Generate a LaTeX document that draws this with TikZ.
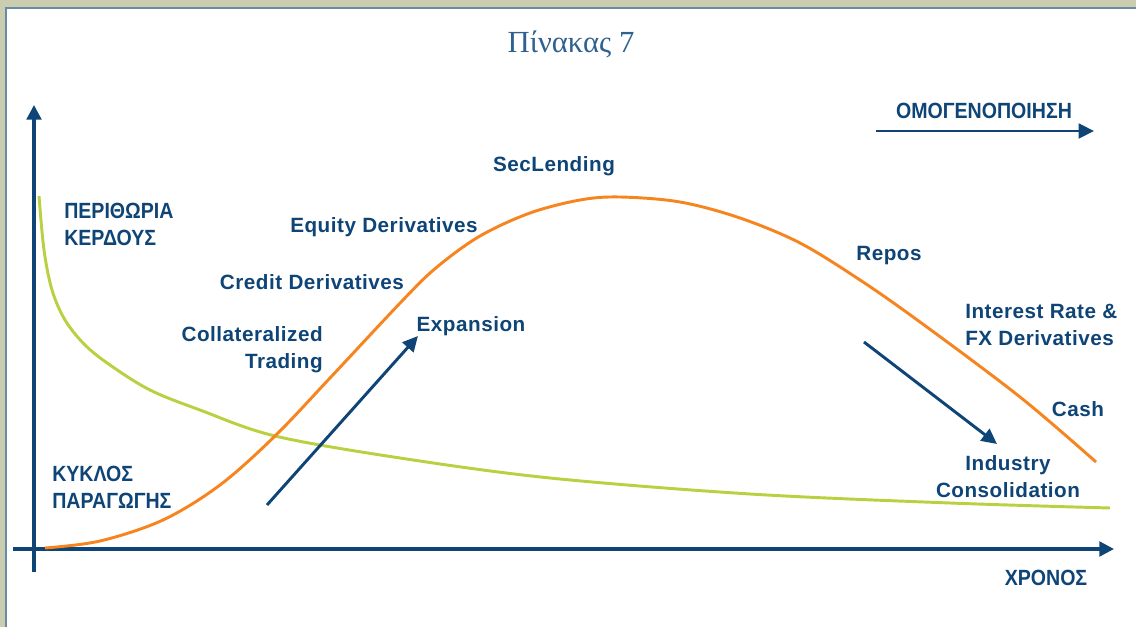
\documentclass[tikz,border=0pt]{standalone}
\usepackage{fontspec}
\newfontfamily\lblfont[LetterSpace=2.5]{Liberation Sans}
\newfontfamily\grkfont[FakeStretch=0.89]{Liberation Sans}
\newfontfamily\ttlfont{Liberation Serif}
\usetikzlibrary{arrows.meta}
\definecolor{navy}{HTML}{0E4576}
\definecolor{ttlblue}{HTML}{2F6190}
\definecolor{curveorange}{HTML}{F7851F}
\definecolor{curvegreen}{HTML}{B9D140}
\definecolor{framebg}{HTML}{CBCDB0}
\definecolor{frameline}{HTML}{6A8AA8}

\begin{document}
\begin{tikzpicture}[x=0.75pt,y=-0.75pt,
  lbl/.style={text=navy,font=\lblfont\bfseries\fontsize{15.5}{20.3}\selectfont,inner sep=0pt},
  grk/.style={lbl,font=\grkfont\bfseries\fontsize{16.5}{20.3}\selectfont},
  axis/.style={navy,line width=2.4pt,-{Triangle[length=11pt,width=11pt]}},
  trend/.style={navy,line width=2.2pt,-{Triangle[length=11.5pt,width=11pt]}},
  curve/.style={line width=2.2pt,smooth,tension=0.55}]
\useasboundingbox (0,0) rectangle (1136,627);
\fill[framebg] (0,0) rectangle (1136,627);
\filldraw[fill=white,draw=frameline,line width=1.5pt] (6,8) rectangle (1150,640);

% title
\node[text=ttlblue,font=\ttlfont\fontsize{23}{26}\selectfont] (title) at (571,44) {Πίνακας 7};

% axes
\coordinate (ybot) at (34,572);
\coordinate (ytop) at (34,105);
\coordinate (xleft) at (13,549);
\coordinate (xright) at (1114,549);
\draw[axis] (ybot) -- (ytop);
\draw[axis] (xleft) -- (xright);

% margin curve and product life cycle
\draw[curvegreen,curve] plot coordinates {(39,196) (44,250) (52,290) (65,320) (85,345) (110,365) (150,390) (200,410) (275,436) (400,458) (550,478) (750,494) (950,503) (1110,508)};
\draw[curveorange,curve] plot coordinates {(45,548) (100,541) (163,520) (220,485) (275,436) (330,378) (403,300) (437,267) (480,236) (530,213) (580,200) (620,197) (680,202) (740,218) (800,243) (860,280) (920,322) (1020,397) (1096,462)};

% axis labels
\node[grk] (xronos) at (1046,578) {ΧΡΟΝΟΣ};
\node[grk,align=left,anchor=west] (perithoria) at (64,224) {ΠΕΡΙΘΩΡΙΑ\\ΚΕΡΔΟΥΣ};
\node[grk,align=left,anchor=west] (kyklos) at (52,487) {ΚΥΚΛΟΣ\\ΠΑΡΑΓΩΓΗΣ};

% homogenisation arrow
\node[grk] (homog) at (984,111) {ΟΜΟΓΕΝΟΠΟΙΗΣΗ};
\coordinate (hstart) at (876,131);
\coordinate (hend) at (1094,131);
\draw[trend] (hstart) -- (hend);

% products along the curve
\node[lbl,align=right,anchor=east] (collat) at (323,350) {Collateralized\\Trading};
\node[lbl] (credit) at (312,282) {Credit Derivatives};
\node[lbl] (equity) at (384,227) {Equity Derivatives};
\node[lbl] (seclend) at (554,166) {SecLending};
\node[lbl] (repos) at (889,256) {Repos};
\node[lbl,align=left,anchor=west] (irfx) at (965,325) {Interest Rate \&\\FX Derivatives};
\node[lbl] (cash) at (1078,409) {Cash};

% phases
\node[lbl] (expansion) at (471,326) {Expansion};
\coordinate (expstart) at (267,505);
\coordinate (expend) at (418,336);
\draw[trend] (expstart) -- (expend);

\node[lbl,align=center] (consol) at (1008,477) {Industry\\Consolidation};
\coordinate (constart) at (864,342);
\coordinate (conend) at (997,444);
\draw[trend] (constart) -- (conend);
\end{tikzpicture}
\end{document}
